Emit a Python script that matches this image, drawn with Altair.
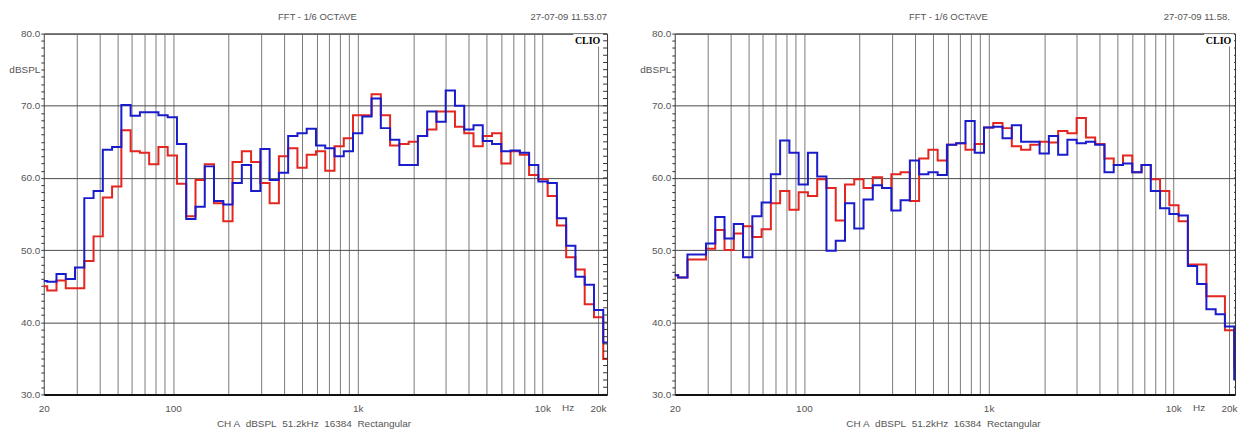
import altair as alt
import pandas as pd

# 1/6-octave band numbers relative to 1 kHz (centre = 1000 * 2**(n/6))
BAND_NUMBERS = list(range(-34, 28))

left_red = [45.0, 44.4, 45.8, 44.7, 44.7, 48.5, 51.9, 57.3, 58.8, 66.6,
            63.7, 63.5, 61.9, 64.3, 63.1, 59.2, 54.7, 59.7, 61.9, 56.5,
            54.0, 62.2, 63.7, 62.2, 59.3, 56.5, 63.0, 64.1, 61.4, 63.2,
            63.7, 61.0, 64.4, 65.5, 68.7, 68.7, 71.6, 68.7, 64.5, 64.7,
            65.0, 65.8, 66.7, 69.2, 69.2, 67.1, 66.2, 64.4, 65.8, 66.2,
            62.0, 63.7, 63.2, 60.4, 59.8, 57.5, 53.4, 49.0, 47.3, 42.5,
            40.7, 34.9]
left_blue = [45.7, 45.6, 46.7, 46.0, 47.6, 57.2, 58.2, 63.9, 64.3, 70.1,
             68.6, 69.1, 69.1, 68.7, 68.4, 64.7, 54.3, 56.0, 61.6, 56.8,
             56.3, 59.3, 61.8, 58.2, 64.0, 59.7, 60.7, 65.8, 66.2, 66.8,
             64.5, 64.1, 63.0, 63.7, 66.2, 68.5, 71.0, 66.9, 65.3, 61.8,
             61.8, 65.8, 69.2, 67.8, 72.1, 70.0, 66.7, 67.3, 65.1, 64.7,
             63.7, 63.8, 63.5, 61.8, 59.5, 59.3, 54.4, 50.6, 46.3, 45.2,
             41.7, 37.2]
right_red = [46.5, 46.2, 48.7, 48.7, 50.2, 52.8, 50.0, 52.3, 53.3, 51.8,
             52.9, 56.5, 58.2, 55.6, 58.0, 57.5, 59.8, 58.6, 54.1, 59.1,
             59.8, 58.6, 60.1, 58.6, 60.5, 60.8, 56.8, 62.7, 63.9, 62.4,
             64.6, 64.8, 63.9, 64.7, 67.0, 67.6, 66.9, 64.4, 63.9, 64.6,
             65.0, 64.9, 66.5, 66.2, 68.3, 65.6, 64.7, 62.7, 61.8, 63.1,
             60.8, 61.8, 59.8, 58.2, 56.2, 54.0, 48.0, 48.0, 43.6, 43.6,
             38.9, 33.7]
right_blue = [46.5, 46.2, 49.4, 49.4, 50.9, 54.6, 51.6, 53.6, 49.0, 54.7,
              56.6, 60.5, 65.2, 63.5, 59.1, 63.5, 60.2, 49.9, 51.3, 56.5,
              53.0, 57.0, 59.0, 58.6, 55.5, 56.9, 62.4, 60.5, 60.8, 60.4,
              64.6, 64.8, 67.9, 63.5, 67.0, 67.1, 65.5, 67.3, 65.0, 65.0,
              63.4, 65.8, 63.2, 65.3, 64.8, 65.0, 64.6, 60.8, 61.8, 62.0,
              60.8, 61.8, 58.2, 55.8, 55.0, 54.8, 47.8, 45.3, 41.8, 41.1,
              39.4, 32.1]

x_grid_values = [20, 30, 40, 50, 60, 70, 80, 90,
                 100, 200, 300, 400, 500, 600, 700, 800, 900,
                 1000, 2000, 3000, 4000, 5000, 6000, 7000, 8000, 9000,
                 10000, 20000]
x_label_text = {20: "20", 100: "100", 1000: "1k", 10000: "10k", 20000: "20k"}
y_tick_values = list(range(30, 81))
unit_label_value = 75
hz_label_at = 13800

header_title = "FFT - 1/6 OCTAVE"
stamps = ["27-07-09 11.53.07", "27-07-09 11.58.00"]
x_title = "CH A\u00a0 dBSPL\u00a0 51.2kHz\u00a0 16384\u00a0 Rectangular"

RED = "#e3261f"
BLUE = "#1a1ccc"
TXT = "#555555"
H = 362
PX_PER_DECADE = 185.3


def step_frame(vals):
    rows = []
    for n, v in zip(BAND_NUMBERS, vals):
        rows.append({"f": 1000 * 2 ** ((n - 0.5) / 6), "db": v})
    rows.append({"f": 1000 * 2 ** ((BAND_NUMBERS[-1] + 0.5) / 6), "db": vals[-1]})
    return pd.DataFrame(rows)


label_expr = " : ".join(f"datum.value == {v} ? '{t}'" for v, t in x_label_text.items()) + " : ''"
y_label_expr = (f"datum.value % 10 == 0 ? format(datum.value, '.1f') : "
                f"(datum.value == {unit_label_value} ? 'dBSPL' : '')")


def panel(red, blue, width, stamp, stamp_x, stamp_align, stamp_limit):
    f_max = 20 * 10 ** (width / PX_PER_DECADE)
    xs = alt.Scale(type="log", domain=[20, f_max], nice=False)
    ys = alt.Scale(domain=[30, 80], nice=False, zero=False)
    x_axis = alt.Axis(
        values=x_grid_values, labelExpr=label_expr, grid=True, gridColor="#7a7a7a",
        gridWidth=1, ticks=False, tickSize=0, domainColor="#111111", domainWidth=2,
        labelFlush=False, labelOverlap=False, labelPadding=14, labelBaseline="middle",
        labelColor=TXT, labelFontSize=10, title=x_title, titleColor=TXT,
        titleFontSize=10, titleFontWeight="normal", titleX=width / 2 - 12, titleY=29,
        titleBaseline="middle")
    y_axis = alt.Axis(
        values=y_tick_values, labelExpr=y_label_expr, grid=True, gridColor="#4a4a4a",
        gridOpacity={"condition": {"test": "datum.value % 10 == 0", "value": 1}, "value": 0},
        tickSize=3, tickColor="#333333", domain=False, labelPadding=1,
        labelOverlap=False, labelFlush=False, labelColor=TXT, labelFontSize=10,
        minExtent=43, maxExtent=43, title=None)
    X = alt.X("f:Q", scale=xs, axis=x_axis)
    Y = alt.Y("db:Q", scale=ys, axis=y_axis)

    red_line = alt.Chart(step_frame(red)).mark_line(
        interpolate="step-after", color=RED, strokeWidth=2, clip=True).encode(x=X, y=Y)
    blue_line = alt.Chart(step_frame(blue)).mark_line(
        interpolate="step-after", color=BLUE, strokeWidth=2, clip=True).encode(x=X, y=Y)

    right_ticks = alt.Chart(pd.DataFrame({"db": y_tick_values})).mark_rule(
        color="#333333", strokeWidth=1, clip=True).encode(
        y=Y, x=alt.value(565 - 4), x2=alt.value(565))

    one = alt.Data(values=[{}])
    clio_box = alt.Chart(one).mark_rect(color="white").encode(
        x=alt.value(531), x2=alt.value(561), y=alt.value(0.5), y2=alt.value(13))
    clio = alt.Chart(one).mark_text(
        text="CLIO", font="Liberation Serif", fontWeight="bold", fontSize=10,
        color="#000000", align="center", baseline="middle").encode(
        x=alt.value(545.5), y=alt.value(7))
    hz = alt.Chart(pd.DataFrame({"f": [hz_label_at]})).mark_text(
        text="Hz", fontSize=10, color=TXT, align="center", baseline="middle").encode(
        x=X, y=alt.value(H + 14))
    title = alt.Chart(one).mark_text(
        text=header_title, fontSize=9.5, color=TXT, align="center", baseline="middle").encode(
        x=alt.value(274.5), y=alt.value(-17))
    stamp_kw = dict(text=stamp, fontSize=9.5, color=TXT, align=stamp_align, baseline="middle")
    if stamp_limit:
        stamp_kw.update(limit=stamp_limit, ellipsis=" ")
    stamp_mark = alt.Chart(one).mark_text(**stamp_kw).encode(
        x=alt.value(stamp_x), y=alt.value(-17))
    top_marker = alt.Chart(one).mark_rule(opacity=0, strokeWidth=0).encode(
        x=alt.value(0), y=alt.value(-32), y2=alt.value(0))

    return alt.layer(red_line, blue_line, right_ticks, clio_box, clio, hz, title,
                     stamp_mark, top_marker).properties(width=width, height=H)


p1 = panel(left_red, left_blue, 565, stamps[0], 565, "right", None)
p2 = panel(right_red, right_blue, 562, stamps[1], 490.5, "left", 73)

chart = alt.hconcat(p1, p2, spacing=23).properties(padding=0).configure(
    font="Liberation Sans").configure_view(stroke="#333333", strokeWidth=1)

chart.save("out.html", embed_options={"renderer": "svg", "actions": False})
